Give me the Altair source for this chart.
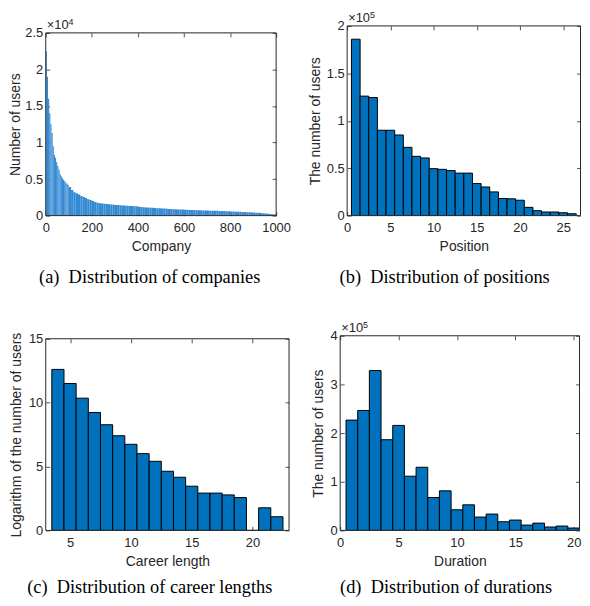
import altair as alt
import pandas as pd

# ---------------- data ----------------
# (a) users per company, companies sorted by size
company_bin5_users = [22500, 19000, 16000, 14000, 12500, 11300, 9500, 8300, 7900, 7300,
                      6800, 6300, 5700, 5400, 5100, 4900, 4700, 4500, 4350, 4200]          # ranks 0-100, 5 per bin
company_bin10_users = [3900, 3500, 3200, 3050, 2900, 2700, 2550, 2400, 2250, 2150,
                       2000, 1850, 1750, 1700, 1650, 1620, 1580, 1550, 1520, 1490,
                       1460, 1440, 1420, 1400, 1380, 1350, 1330, 1310, 1290, 1270,
                       1200, 1180, 1150, 1120, 1100, 1080, 1060, 1040, 1020, 1000,
                       980, 960, 940, 920, 900, 880, 860, 845, 830, 820,
                       800, 790, 780, 770, 760, 745, 735, 725, 715, 700,
                       690, 680, 670, 660, 650, 640, 630, 620, 605, 590,
                       570, 560, 545, 530, 515, 500, 485, 470, 455, 440,
                       420, 400, 375, 350, 320, 290, 260, 230, 190, 140]                    # ranks 100-1000, 10 per bin

# (b) number of users per position
positions = list(range(1, 27))
position_users = [186000, 126000, 124500, 90000, 90000, 85000, 72000, 62500, 60800, 49500,
                  48800, 47500, 44800, 44800, 33800, 30200, 25000, 18000, 17700, 16200,
                  8700, 5200, 3800, 3800, 3000, 2000]

# (c) logarithm of number of users per career length
career_lengths = list(range(4, 23))
career_log_users = [12.6, 11.5, 10.35, 9.23, 8.27, 7.41, 6.74, 6.01, 5.41, 4.63,
                    4.16, 3.46, 2.92, 2.92, 2.78, 2.57, 0.0, 1.77, 1.07]

# (d) number of users per duration
durations = list(range(1, 21))
duration_users = [226700, 246500, 328500, 186400, 215800, 111400, 129800, 67600, 81300, 42400,
                  52600, 27400, 33600, 17800, 21300, 11000, 15000, 7000, 9000, 4900]

captions = ["(a)\u2002Distribution of companies", "(b)\u2002Distribution of positions",
            "(c)\u2002Distribution of career lengths", "(d)\u2002Distribution of durations"]

# ---------------- tables ----------------
a_start = [5 * i for i in range(len(company_bin5_users))] + [100 + 10 * i for i in range(len(company_bin10_users))]
a_end = [5 * (i + 1) for i in range(len(company_bin5_users))] + [110 + 10 * i for i in range(len(company_bin10_users))]
df_a = pd.DataFrame({"x0": a_start, "x1": a_end, "v": company_bin5_users + company_bin10_users})
df_b = pd.DataFrame({"x0": [p - 0.5 for p in positions], "x1": [p + 0.5 for p in positions], "v": position_users})
df_c = pd.DataFrame({"x0": [p - 0.5 for p in career_lengths], "x1": [p + 0.5 for p in career_lengths], "v": career_log_users})
df_d = pd.DataFrame({"x0": [p - 0.5 for p in durations], "x1": [p + 0.5 for p in durations], "v": duration_users})

DARK = "#262626"
SANS = "Liberation Sans"


def panel(df, w, h, xdom, ymax, xticks, yticks, xtitle, ytitle, caption, ylabel_expr=None,
          exponent=None, pad_top=0, ytitle_pad=4, cap_offset=12,
          fill="#0072BD", stroke="black", stroke_width=1.0):
    """h is the framed plot height; pad_top is blank space above the frame."""
    base = alt.Chart(df)
    total_h = h + pad_top
    ydom_top = ymax * total_h / h
    yaxis_kw = dict(values=yticks, orient="left", offset=-4, tickSize=4, labelPadding=3,
                    title=ytitle, titlePadding=ytitle_pad, titleY=pad_top + h / 2)
    if ylabel_expr:
        yaxis_kw["labelExpr"] = ylabel_expr
    xs = alt.Scale(domain=xdom, nice=False, zero=False)
    ys = alt.Scale(domain=[0, ydom_top], nice=False)
    bar_kw = dict(fill=fill, clip=True)
    if stroke:
        bar_kw.update(stroke=stroke, strokeWidth=stroke_width)
    else:
        bar_kw.update(strokeWidth=0)
    bars = base.mark_bar(**bar_kw).encode(
        x=alt.X("x0:Q", scale=xs, axis=alt.Axis(values=xticks, orient="bottom", offset=-4, tickSize=4,
                                                 labelPadding=6, format="d", title=xtitle, titlePadding=5)),
        x2="x1:Q",
        y=alt.Y("v:Q", scale=ys, axis=alt.Axis(**yaxis_kw)),
        y2=alt.datum(0),
    )
    ghost = base.mark_bar(opacity=0).encode(
        x=alt.X("x0:Q", scale=xs, axis=alt.Axis(values=xticks, orient="top", offset=-4 - pad_top,
                                                 tickSize=4, labels=False, title=None)),
        x2="x1:Q",
        y=alt.Y("v:Q", scale=ys, axis=alt.Axis(values=yticks, orient="right", offset=-4, tickSize=4,
                                                labels=False, title=None)),
        y2=alt.datum(0),
    )
    frame_df = pd.DataFrame({"f": [0]})
    frame = alt.Chart(frame_df).mark_rect(fillOpacity=0, stroke=DARK, strokeWidth=1).encode(
        x=alt.value(0), x2=alt.value(w), y=alt.value(pad_top), y2=alt.value(total_h))
    layers = [bars, ghost, frame]
    if exponent:
        ex = pd.DataFrame({"t": ["×10"], "e": [exponent]})
        layers.append(alt.Chart(ex).mark_text(align="left", baseline="alphabetic", font=SANS,
                                              fontSize=13, color=DARK).encode(
            x=alt.value(1), y=alt.value(pad_top - 4), text="t:N"))
        layers.append(alt.Chart(ex).mark_text(align="left", baseline="alphabetic", font=SANS,
                                              fontSize=9, color=DARK).encode(
            x=alt.value(23), y=alt.value(pad_top - 8), text="e:N"))
    return alt.layer(*layers).resolve_axis(x="independent", y="independent").properties(
        width=w, height=total_h,
        title=alt.TitleParams(caption, orient="bottom", anchor="middle", frame="bounds",
                              font="Liberation Serif", fontSize=18.5, fontWeight="normal",
                              color="black", offset=cap_offset))


pa = panel(df_a, 232, 184, [0, 1000], 25000, [0, 200, 400, 600, 800, 1000],
           [0, 5000, 10000, 15000, 20000, 25000], "Company", "Number of users", captions[0],
           ylabel_expr="datum.value / 10000", exponent="4", pad_top=20, ytitle_pad=2, cap_offset=15,
           fill="#3489D3", stroke=None)
pb = panel(df_b, 235, 191, [0, 27], 200000, [0, 5, 10, 15, 20, 25],
           [0, 50000, 100000, 150000, 200000], "Position", "The number of users", captions[1],
           ylabel_expr="datum.value / 100000", exponent="5", pad_top=13, ytitle_pad=4, cap_offset=15)
pc = panel(df_c, 245, 193, [3, 23], 15, [5, 10, 15, 20], [0, 5, 10, 15],
           "Career length", "Logarithm of the number of users", captions[2], pad_top=21,
           ytitle_pad=4.5, cap_offset=10)
pd_ = panel(df_d, 241, 196, [0, 20.5], 400000, [0, 5, 10, 15, 20],
            [0, 100000, 200000, 300000, 400000], "Duration", "The number of users", captions[3],
            ylabel_expr="datum.value / 100000", exponent="5", pad_top=18, ytitle_pad=4.8, cap_offset=10)

row1 = alt.hconcat(pa, pb, spacing=16.5)
row2 = alt.hconcat(pc, pd_, spacing=20.5)
chart = alt.vconcat(row1, row2, spacing=30).properties(padding=0, background="white").configure_axis(
    labelFont=SANS, labelFontSize=13, labelColor=DARK, titleFont=SANS, titleFontSize=14,
    titleFontWeight="normal", titleColor=DARK, tickColor=DARK, tickWidth=0.8, grid=False, domain=False,
    minExtent=0, labelFlush=False, labelOverlap=False
).configure_view(stroke="transparent")

chart.save("out.html", embed_options={"renderer": "svg", "actions": False})
